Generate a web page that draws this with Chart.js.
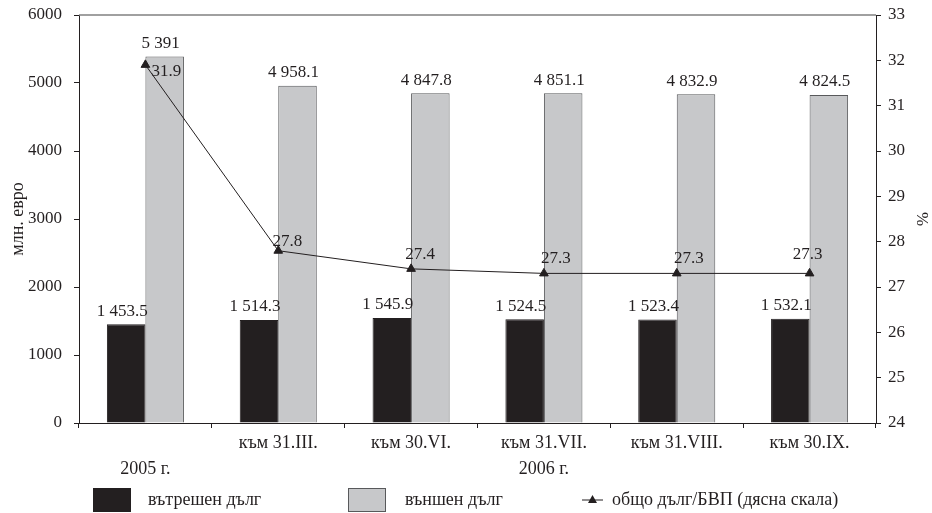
<!DOCTYPE html>
<html>
<head>
<meta charset="utf-8">
<script src="https://cdn.jsdelivr.net/npm/chart.js@4"></script>
<style>
	body { margin: 0; background: #fff; }
	#wrap { width: 932px; height: 513px; position: relative; }
</style>
</head>
<body>
<div id="wrap"><canvas id="chart"></canvas></div>
<script>
const categories = [['', '2005 г.'], 'към 31.III.', 'към 30.VI.', ['към 31.VII.', '2006 г.'], 'към 31.VIII.', 'към 30.IX.'];
const internalDebt = [1453.5, 1514.3, 1545.9, 1524.5, 1523.4, 1532.1];
const externalDebt = [5391, 4958.1, 4847.8, 4851.1, 4832.9, 4824.5];
const debtToGdp = [31.9, 27.8, 27.4, 27.3, 27.3, 27.3];
const leftTicks = [0, 1000, 2000, 3000, 4000, 5000, 6000];
const rightTicks = [24, 25, 26, 27, 28, 29, 30, 31, 32, 33];

const INK = '#231f20';
const GREY = '#c7c8ca';
const GREY_EDGE = '#58595b';
const FONT = '"Liberation Serif", "Times New Roman", serif';

// где стоят подписите на линията спрямо точката
const lineLabelOffsets = [[21, 7], [9, -9], [9, -14], [12, -15], [12, -15], [-2, -19]];

function fmt(v) {
	const s = Number.isInteger(v) ? String(v) : v.toFixed(1);
	const parts = s.split('.');
	parts[0] = parts[0].replace(/\B(?=(\d{3})+(?!\d))/g, ' ');
	return parts.join('.');
}

const valueLabels = {
	id: 'valueLabels',
	afterDatasetsDraw(chart) {
		const ctx = chart.ctx;
		ctx.save();
		ctx.font = '17px ' + FONT;
		ctx.fillStyle = INK;
		ctx.textAlign = 'center';
		ctx.textBaseline = 'middle';
		chart.data.datasets.forEach((ds, i) => {
			const meta = chart.getDatasetMeta(i);
			meta.data.forEach((el, j) => {
				const text = fmt(ds.data[j]);
				if (ds.type === 'line') {
					const o = lineLabelOffsets[j];
					ctx.fillText(text, el.x + o[0], el.y + o[1]);
				} else {
					ctx.fillText(text, el.x - 4, el.y - 13);
				}
			});
		});
		ctx.restore();
	}
};

const frame = {
	id: 'frame',
	afterDraw(chart) {
		const { ctx, chartArea } = chart;
		ctx.save();
		ctx.strokeStyle = '#808080';
		ctx.lineWidth = 1.5;
		ctx.beginPath();
		ctx.moveTo(chartArea.left, chartArea.top);
		ctx.lineTo(chartArea.right, chartArea.top);
		ctx.stroke();

		// легенда
		const y = 500;
		const ds = chart.data.datasets;
		ctx.font = '18px ' + FONT;
		ctx.textBaseline = 'middle';
		ctx.textAlign = 'left';

		ctx.fillStyle = INK;
		ctx.fillRect(93, y - 12, 38, 24);
		ctx.fillText(ds[1].label, 148, y);

		ctx.fillStyle = GREY;
		ctx.fillRect(348, y - 12, 38, 24);
		ctx.strokeStyle = GREY_EDGE;
		ctx.lineWidth = 1;
		ctx.strokeRect(348.5, y - 11.5, 37, 23);
		ctx.fillStyle = INK;
		ctx.fillText(ds[2].label, 405, y);

		ctx.strokeStyle = INK;
		ctx.beginPath();
		ctx.moveTo(582, y);
		ctx.lineTo(603, y);
		ctx.stroke();
		ctx.beginPath();
		ctx.moveTo(592.5, y - 5);
		ctx.lineTo(597, y + 3);
		ctx.lineTo(588, y + 3);
		ctx.closePath();
		ctx.fill();
		ctx.fillText(ds[0].label, 612, y);
		ctx.restore();
	}
};

function fixWidth(w) {
	return scale => {
		scale.width = w;
		scale.paddingTop = 0;
		scale.paddingBottom = 0;
	};
}

new Chart(document.getElementById('chart'), {
	type: 'bar',
	data: {
		labels: categories,
		datasets: [
			{
				type: 'line',
				label: 'общо дълг/БВП (дясна скала)',
				data: debtToGdp,
				yAxisID: 'y1',
				borderColor: INK,
				borderWidth: 1,
				backgroundColor: INK,
				pointStyle: 'triangle',
				pointRadius: 5,
				pointBorderWidth: 1,
				tension: 0,
				order: 0
			},
			{
				label: 'вътрешен дълг',
				data: internalDebt,
				yAxisID: 'y',
				backgroundColor: INK,
				borderColor: INK,
				borderWidth: 1,
				categoryPercentage: 0.58,
				barPercentage: 1,
				order: 1
			},
			{
				label: 'външен дълг',
				data: externalDebt,
				yAxisID: 'y',
				backgroundColor: GREY,
				borderColor: GREY_EDGE,
				borderWidth: 1,
				categoryPercentage: 0.58,
				barPercentage: 1,
				order: 2
			}
		]
	},
	options: {
		responsive: true,
		maintainAspectRatio: false,
		animation: false,
		layout: { padding: { top: 15, left: 0, right: 0, bottom: 0 } },
		plugins: {
			legend: { display: false },
			tooltip: { enabled: false }
		},
		scales: {
			x: {
				afterFit(scale) {
					scale.height = 90;
					scale.paddingLeft = 0;
					scale.paddingRight = 0;
				},
				grid: { drawOnChartArea: false, drawTicks: true, tickLength: 5, color: INK, offset: true },
				border: { color: INK, width: 1 },
				ticks: {
					color: INK,
					font: { family: FONT, size: 18, lineHeight: 1.4 },
					padding: 3,
					maxRotation: 0,
					autoSkip: false
				}
			},
			y: {
				position: 'left',
				min: 0,
				max: 6000,
				afterFit: fixWidth(79),
				afterBuildTicks(scale) { scale.ticks = leftTicks.map(v => ({ value: v })); },
				grid: { drawOnChartArea: false, drawTicks: true, tickLength: 5, color: INK },
				border: { color: INK, width: 1 },
				ticks: {
					color: INK,
					font: { family: FONT, size: 17 },
					padding: 12,
					callback: v => String(v)
				},
				title: {
					display: true,
					text: 'млн. евро',
					color: INK,
					font: { family: FONT, size: 18 },
					padding: { top: 7, bottom: 0 }
				}
			},
			y1: {
				position: 'right',
				min: 24,
				max: 33,
				afterFit: fixWidth(56),
				afterBuildTicks(scale) { scale.ticks = rightTicks.map(v => ({ value: v })); },
				grid: { drawOnChartArea: false, drawTicks: true, tickLength: 5, color: INK },
				border: { color: INK, width: 1 },
				ticks: {
					color: INK,
					font: { family: FONT, size: 17 },
					padding: 7,
					callback: v => String(v)
				},
				title: {
					display: true,
					text: '%',
					color: INK,
					font: { family: FONT, size: 17 },
					padding: { top: 0, bottom: 0 }
				}
			}
		}
	},
	plugins: [valueLabels, frame]
});
</script>
</body>
</html>
